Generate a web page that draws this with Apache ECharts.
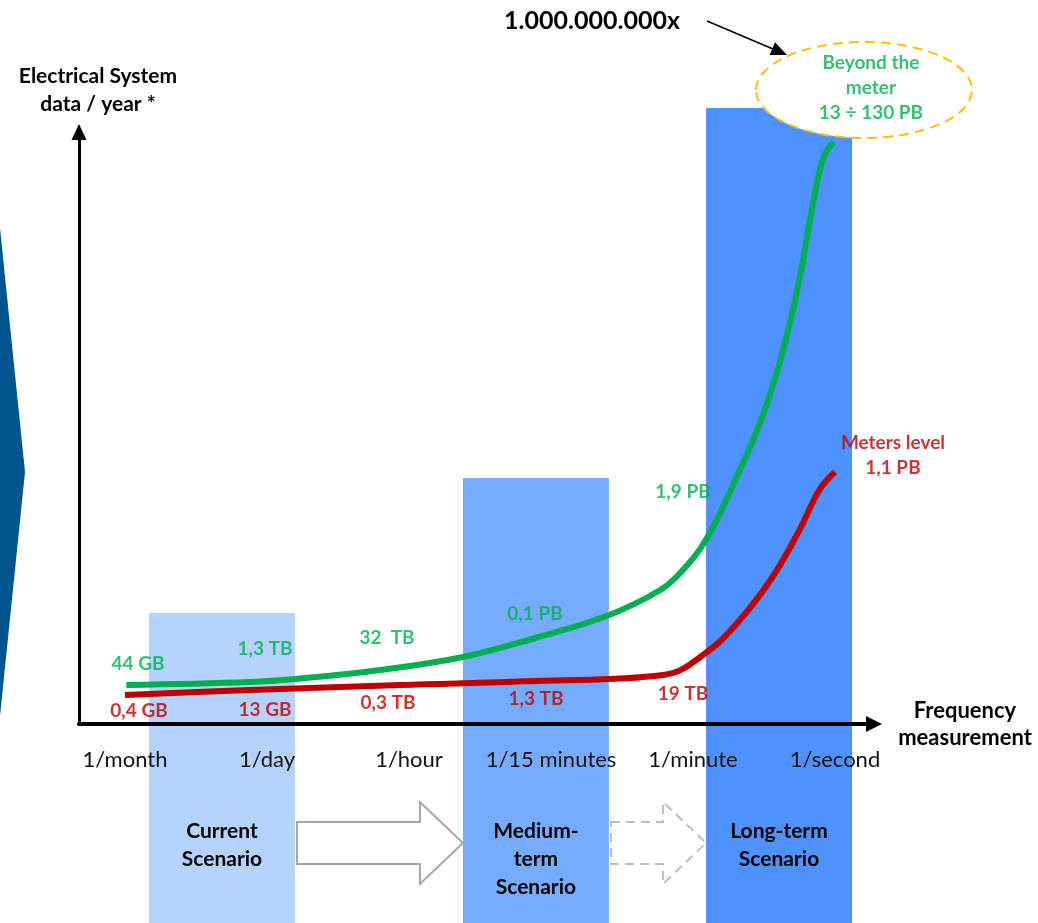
<!DOCTYPE html>
<html>
<head>
<meta charset="utf-8">
<script src="https://cdn.jsdelivr.net/npm/echarts@6/dist/echarts.min.js"></script>
<style>
    html, body { margin: 0; padding: 0; background: #fff; }
    #chart { width: 1038px; height: 923px; }
</style>
</head>
<body>
<div id="chart"></div>
<script>
// frequency of measurement (x axis)
var frequencies = ['1/month', '1/day', '1/hour', '1/15 minutes', '1/minute', '1/second'];

// schematic curves: [frequency index, level]
var beyondMeter = [[0.01, 39], [0.88, 42], [1.2, 45], [1.8, 54], [2.38, 67], [2.89, 86], [3.41, 109], [3.77, 134],
    [3.91, 151], [4.09, 184], [4.33, 254], [4.53, 324], [4.72, 424], [4.85, 524], [4.92, 567], [4.99, 582]];
var metersLevel = [[0, 29], [0.88, 34], [1.94, 39], [2.89, 43], [3.79, 49], [4.09, 71], [4.33, 104],
    [4.56, 147], [4.75, 194], [4.89, 234], [5.0, 252]];

// data / year at each frequency
var beyondLabels = ['44 GB', '1,3 TB', '32  TB', '0,1 PB', '1,9 PB', 'Beyond the\nmeter\n13 ÷ 130 PB'];
var beyondAt = [39, 43, 57, 93, 164, 582];
var meterLabels = ['0,4 GB', '13 GB', '0,3 TB', '1,3 TB', '19 TB', 'Meters level\n1,1 PB'];
var meterAt = [29, 35, 39, 44, 64, 252];

// scenarios (centre on the frequency scale, height)
var scenarios = ['Current\nScenario', 'Medium-\nterm\nScenario', 'Long-term\nScenario'];
var scenarioCenter = [0.683, 2.894, 4.606];
var scenarioLevel = [111, 246, 616];

// styles
var FONT = 'Lato, "Open Sans", sans-serif';
var GREEN = '#00B050';
var RED = '#C00000';
var scenarioColors = ['#B4D3FF', '#75ACFF', '#4D92FF'];
var greenOffsets = [[13, -21], [-2, -32], [-22, -29], [-16, -17], [-10, -68], [36, -54]];
var redOffsets = [[14, 16], [-2, 21], [-21, 18], [-15, 19], [-10, 34], [58, -17]];
var HALF = 0.514;

var myChart = echarts.init(document.getElementById('chart'));

function labelSeries(texts, levels, offsets, color) {
    return {
        type: 'scatter',
        xAxisIndex: 0,
        yAxisIndex: 0,
        symbolSize: 0,
        silent: true,
        z: 8,
        data: texts.map(function(t, i) {
            return {
                value: [i, levels[i]],
                label: { offset: offsets[i] }
            };
        }),
        label: {
            show: true,
            position: 'inside',
            color: color,
            fontFamily: FONT,
            fontWeight: 'bold',
            fontSize: 19,
            lineHeight: 25,
            formatter: function(p) {
                return texts[p.dataIndex];
            }
        }
    };
}

var option = {
    animation: false,
    grid: [
        { left: 79, right: 164, top: 132, bottom: 199, outerBoundsMode: 'none' },
        { left: 54, right: 132, top: 132, bottom: 199, outerBoundsMode: 'none' }
    ],
    xAxis: [{
        type: 'value',
        gridIndex: 0,
        min: -0.324,
        max: 5.275,
        z: 5,
        name: 'Frequency\nmeasurement',
        nameLocation: 'end',
        nameGap: 91,
        nameTextStyle: {
            align: 'center',
            color: '#000',
            fontFamily: FONT,
            fontWeight: 'bold',
            fontSize: 22,
            lineHeight: 27
        },
        axisLine: {
            show: true,
            symbol: ['none', 'triangle'],
            symbolSize: [16, 16],
            lineStyle: { color: '#000', width: 4 }
        },
        axisTick: { show: false },
        axisLabel: { show: false },
        splitLine: { show: false }
    }, {
        type: 'category',
        gridIndex: 1,
        data: frequencies,
        z: 5,
        axisLine: { show: false },
        axisTick: { show: false },
        axisLabel: {
            interval: 0,
            margin: 25,
            color: '#111',
            fontFamily: FONT,
            fontSize: 22
        }
    }],
    yAxis: [{
        type: 'value',
        gridIndex: 0,
        min: 0,
        max: 592,
        z: 5,
        name: 'Electrical System\ndata / year *',
        nameLocation: 'end',
        nameGap: 14,
        nameTextStyle: {
            align: 'center',
            padding: [0, 0, 0, 38],
            color: '#000',
            fontFamily: FONT,
            fontWeight: 'bold',
            fontSize: 21,
            lineHeight: 28
        },
        axisLine: {
            show: true,
            onZero: false,
            symbol: ['none', 'triangle'],
            symbolSize: [15, 16],
            lineStyle: { color: '#000', width: 3 }
        },
        axisTick: { show: false },
        axisLabel: { show: false },
        splitLine: { show: false }
    }, {
        type: 'value',
        gridIndex: 1,
        show: false
    }],
    series: [{
        // scenario columns and the arrows between them
        type: 'custom',
        xAxisIndex: 0,
        yAxisIndex: 0,
        clip: false,
        silent: true,
        z: 1,
        data: scenarioCenter.map(function(c, i) {
            return [c, scenarioLevel[i], i];
        }),
        renderItem: function(params, api) {
            var i = api.value(2);
            var tl = api.coord([api.value(0) - HALF, api.value(1)]);
            var br = api.coord([api.value(0) + HALF, 0]);
            var axisY = br[1];
            var children = [{
                type: 'rect',
                shape: { x: tl[0], y: tl[1], width: br[0] - tl[0], height: api.getHeight() - tl[1] },
                style: { fill: scenarioColors[i] }
            }, {
                type: 'text',
                style: {
                    text: scenarios[i],
                    x: (tl[0] + br[0]) / 2,
                    y: axisY + 93,
                    align: 'center',
                    verticalAlign: 'top',
                    fontFamily: FONT,
                    fontWeight: 'bold',
                    fontSize: 21,
                    lineHeight: 28,
                    fill: '#000'
                }
            }];
            if (i > 0) {
                var x0 = api.coord([scenarioCenter[i - 1] + HALF, 0])[0] + 2;
                var x1 = tl[0];
                var xh = x1 - 43;
                var ym = axisY + 119;
                children.push({
                    type: 'polygon',
                    shape: {
                        points: [[x0, ym - 21], [xh, ym - 21], [xh, ym - 41], [x1, ym],
                            [xh, ym + 41], [xh, ym + 21], [x0, ym + 21]]
                    },
                    style: i === 1 ?
                        { fill: '#fff', stroke: '#A6A6A6', lineWidth: 2 } :
                        { fill: 'none', stroke: '#BDBDBD', lineWidth: 2, lineDash: [9, 6] }
                });
            }
            return { type: 'group', children: children };
        }
    }, {
        name: 'Beyond the meter',
        type: 'line',
        xAxisIndex: 0,
        yAxisIndex: 0,
        data: beyondMeter,
        smooth: 0.4,
        showSymbol: false,
        silent: true,
        z: 6,
        lineStyle: { color: GREEN, width: 6 }
    }, {
        name: 'Meters level',
        type: 'line',
        xAxisIndex: 0,
        yAxisIndex: 0,
        data: metersLevel,
        smooth: 0.4,
        showSymbol: false,
        silent: true,
        z: 6,
        lineStyle: { color: RED, width: 6 }
    },
        labelSeries(beyondLabels, beyondAt, greenOffsets, GREEN),
        labelSeries(meterLabels, meterAt, redOffsets, RED)
    ],
    graphic: [{
        type: 'polygon',
        z: 3,
        shape: { points: [[0, 228], [25, 472], [0, 716]] },
        style: { fill: '#00558F' }
    }, {
        type: 'ellipse',
        z: 3,
        shape: { cx: 864, cy: 90, rx: 108, ry: 48 },
        style: { fill: '#fff', stroke: '#FFC000', lineWidth: 2, lineDash: [10, 6] }
    }, {
        type: 'text',
        z: 3,
        style: {
            text: '1.000.000.000x',
            x: 592,
            y: 21,
            align: 'center',
            verticalAlign: 'middle',
            fontFamily: FONT,
            fontWeight: 'bold',
            fontSize: 25,
            fill: '#000'
        }
    }, {
        type: 'line',
        z: 3,
        shape: { x1: 707, y1: 21, x2: 773, y2: 49 },
        style: { stroke: '#000', lineWidth: 1.5 }
    }, {
        type: 'polygon',
        z: 3,
        shape: { points: [[769.6, 55.1], [775.0, 42.3], [787, 55]] },
        style: { fill: '#000' }
    }]
};

myChart.setOption(option);
window.addEventListener('resize', function() {
    myChart.resize();
});
</script>
</body>
</html>
